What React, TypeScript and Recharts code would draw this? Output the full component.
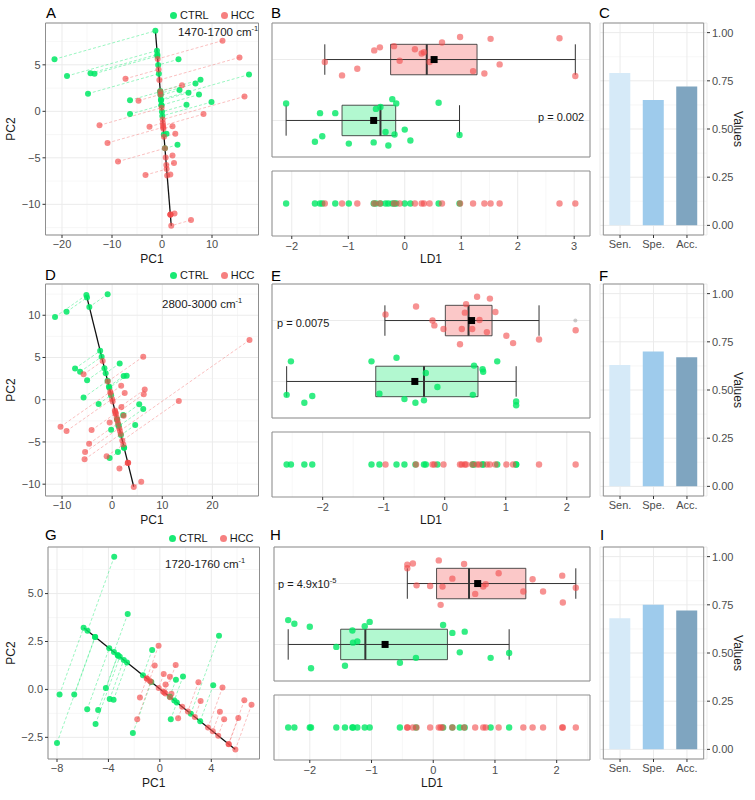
import React from 'react';
import {
  ScatterChart, Scatter, XAxis, YAxis, CartesianGrid, ReferenceLine, ReferenceArea,
  BarChart, Bar, Cell,
} from 'recharts';

type Pt = [number, number];

// ---------- Panel A (1470-1700 cm-1): PC1, PC2 ----------
const A_CTRL: Pt[] = [
  [-21.5, 5.6], [-19, 3.8], [-14.3, 4.1], [-13.5, 4.05], [-14.8, 1.9], [-6.4, 1.2], [-6.4, -0.3],
  [3.3, 5.6], [3.5, 2.3], [5.3, 2.0], [6.7, 3.0], [7.7, 3.4], [7.4, 1.8], [4.9, 0.7], [9.9, 1.0],
  [17.4, 3.95], [0.9, -2.4], [3.1, -3.6],
];
const A_HCC: Pt[] = [
  [12.1, 7.6], [15.5, 5.8], [16.5, 1.6], [-7.3, 3.5], [4.0, 2.8], [-4.7, 1.15], [8.3, -0.3],
  [-12.5, -1.5], [-2.5, -1.65], [-10.9, -3.4], [2.1, -1.6], [2.66, -2.4], [-8.8, -5.4], [-3.3, -6.85],
  [2.1, -4.76], [2.4, -5.55], [1.66, -6.8], [1.7, -11.1], [2.5, -11.0], [5.8, -11.7],
];
const A_LINE: Pt[] = [[-1.3, 8.5], [1.85, -12.3]];

// ---------- Panel D (2800-3000 cm-1) ----------
const D_CTRL: Pt[] = [
  [-0.9, 12.5], [-11.4, 9.8], [-9.1, 10.4], [-7.4, 3.7], [-6.4, 3.3], [-5.0, 2.3], [-5.7, 0.25],
  [-2.7, -0.5], [1.5, 4.3], [2.3, 2.8], [2.9, 2.85], [5.4, -0.55], [6.2, -1.1], [2.2, -1.8],
  [4.6, -3.0], [-0.2, -3.57], [1.15, -6.2], [-0.5, -6.9],
];
const D_HCC: Pt[] = [
  [6.2, 5.1], [27.4, 7.06], [-5.7, 3.0], [1.8, 1.65], [6.5, 1.2], [6.3, 0.64], [2.5, 0.8],
  [13.3, -0.15], [1.85, -0.86], [2.3, -1.9], [-0.5, -2.7], [-10.3, -3.2], [-9.1, -3.7], [-4.1, -3.6],
  [-4.6, -5.2], [-5.4, -6.2], [-5.5, -7.06], [-1.1, -6.7], [1.45, -8.15], [3.2, -7.45], [5.8, -9.7],
];
const D_LINE: Pt[] = [[-5.1, 12.3], [4.3, -10.3]];

// ---------- Panel G (1720-1760 cm-1) ----------
const G_CTRL: Pt[] = [
  [-3.55, 6.92], [-2.5, 3.94], [-7.8, -0.26], [-6.66, -0.26], [-8.0, -2.79], [-5.65, -1.04],
  [-4.8, -1.07], [-5.0, -1.8], [-4.2, 0.07], [-3.9, -0.5], [-3.6, -0.54], [-2.1, -2.28],
  [-0.6, 2.06], [1.25, 0.5], [1.8, 0.68], [0.85, -1.56], [4.15, 0.22], [4.6, 2.8],
];
const G_HCC: Pt[] = [
  [-0.1, 2.28], [-0.4, 1.25], [0.3, 0.8], [0.78, 0.66], [1.23, 1.27], [0.44, 0.26], [0.9, -0.22],
  [-1.55, -0.42], [-1.76, -1.56], [1.42, -1.5], [3.0, 0.38], [3.17, -0.6], [4.87, 0.1],
  [4.67, -1.16], [5.0, -1.56], [6.1, -1.49], [6.57, -0.57], [7.13, -0.8],
];
const G_LINE: Pt[] = [[-5.9, 3.2], [5.85, -3.12]];

// ---------- LD1 scores [LD1, vertical jitter] ----------
const B_CTRL: Pt[] = [
  [-2.1, 0.28], [-1.5, 0.12], [-1.23, 0.12], [-1.46, -0.26], [-1.59, -0.35], [-0.99, -0.38],
  [-0.55, -0.36], [-0.51, 0.19], [-0.43, 0.22], [-0.22, 0.35], [-0.15, 0.28], [-0.34, -0.19],
  [-0.18, -0.23], [-0.29, -0.41], [0.0, -0.15], [0.1, -0.33], [0.6, 0.29], [0.97, -0.24],
];
const B_HCC: Pt[] = [
  [-1.415, -0.04], [-1.11, -0.26], [-0.84, -0.15], [-0.54, 0.15], [-0.44, 0.2], [-0.19, 0.22],
  [-0.09, -0.02], [0.18, 0.17], [0.3, 0.1], [0.34, 0.12], [0.44, -0.04], [0.66, 0.28], [0.98, 0.37],
  [1.21, -0.19], [1.41, -0.23], [1.52, 0.34], [1.68, -0.08], [2.74, 0.35], [3.02, -0.27],
];
const E_CTRL: Pt[] = [
  [-2.59, -0.22], [-2.52, 0.33], [-2.3, -0.35], [-2.17, -0.24], [-1.2, 0.33], [-1.07, -0.2],
  [-0.79, 0.39], [-0.66, -0.29], [-0.48, -0.35], [-0.34, -0.31], [-0.31, 0.14], [-0.12, -0.09],
  [0.46, -0.22], [0.48, 0.26], [0.62, 0.2], [0.63, 0.16], [0.86, 0.33], [1.17, -0.33], [1.17, -0.39],
];
const E_HCC: Pt[] = [
  [-0.97, 0.1], [-0.47, 0.23], [-0.2, 0.0], [-0.17, -0.08], [-0.02, -0.14], [0.25, -0.39],
  [0.28, -0.14], [0.33, 0.13], [0.35, 0.27], [0.45, -0.14], [0.53, 0.39], [0.57, 0.01],
  [0.69, -0.19], [0.74, 0.36], [0.83, 0.14], [1.01, -0.25], [1.12, -0.37], [1.545, -0.31], [2.145, -0.16],
];
const H_CTRL: Pt[] = [
  [-2.35, 0.4], [-2.25, 0.34], [-2.0, 0.29], [-1.98, -0.39], [-1.57, -0.04], [-1.43, -0.35],
  [-1.31, 0.23], [-1.3, 0.03], [-1.23, 0.05], [-1.11, 0.3], [-1.03, 0.37], [-0.54, -0.3],
  [-0.28, -0.22], [0.16, 0.32], [0.31, 0.19], [0.43, -0.13], [0.51, 0.21], [0.93, -0.22], [1.23, -0.14],
];
const H_HCC: Pt[] = [
  [-0.42, 0.31], [-0.42, 0.25], [-0.33, 0.33], [-0.27, -0.03], [-0.05, -0.04], [0.09, 0.38],
  [0.15, -0.05], [0.12, -0.35], [0.31, 0.08], [0.5, 0.32], [0.68, -0.17], [0.81, -0.05],
  [0.85, -0.01], [1.06, 0.17], [1.46, -0.13], [1.61, 0.07], [1.78, -0.13], [2.09, 0.13],
  [2.1, -0.31], [2.31, -0.07],
];

// box stats: [whisker low, Q1, median, Q3, whisker high, mean]
const B_BOX_CTRL = [-2.1, -1.11, -0.43, -0.16, 0.97, -0.55];
const B_BOX_HCC = [-1.415, -0.25, 0.39, 1.28, 3.02, 0.52];
const E_BOX_CTRL = [-2.59, -1.13, -0.34, 0.545, 1.17, -0.49];
const E_BOX_HCC = [-0.98, 0.01, 0.39, 0.775, 1.545, 0.44];
const E_OUTLIER_HCC = [2.14];
const H_BOX_CTRL = [-2.35, -1.5, -1.1, 0.23, 1.23, -0.78];
const H_BOX_HCC = [-0.42, 0.054, 0.58, 1.5, 2.31, 0.72];

// ---------- Bars ----------
const BAR_LABELS = ['Sen.', 'Spe.', 'Acc.'];
const C_VALUES = [0.79, 0.65, 0.72];
const F_VALUES = [0.63, 0.70, 0.67];
const I_VALUES = [0.68, 0.75, 0.72];
const BAR_TICKS = [0, 0.25, 0.5, 0.75, 1];
const BAR_MINOR = [0.125, 0.375, 0.625, 0.875];

// ---------- styles ----------
const GREEN = '#00e865';
const RED = '#f24a4a';
const BAR_COLORS = ['#d6eaf8', '#9ecbec', '#7fa5c0'];
const MAJOR = '#ebebeb';
const MINOR = '#f5f5f5';
const BORDER = '#8f8f8f';
const TICK_TXT = '#4d4d4d';
const TITLE_TXT = '#1a1a1a';
const FONT = '"Liberation Sans", Arial, Helvetica, sans-serif';

const minus = (s: string) => s.replace(/-/g, '\u2212');
const fmtInt = (v: number) => minus(String(v));
const fmt1 = (v: number) => minus(v.toFixed(1));
const fmt2 = (v: number) => minus(v.toFixed(2));

function project(p: Pt, line: Pt[]): Pt {
  const [a, b] = line;
  const dx = b[0] - a[0];
  const dy = b[1] - a[1];
  const t = ((p[0] - a[0]) * dx + (p[1] - a[1]) * dy) / (dx * dx + dy * dy);
  return [a[0] + t * dx, a[1] + t * dy];
}

const dotShape = (color: string, r: number, op: number) => (props: any) => {
  if (props.cx == null || props.cy == null) return <g />;
  return <circle cx={props.cx} cy={props.cy} r={r} fill={color} fillOpacity={op} />;
};
const squareShape = (props: any) => {
  if (props.cx == null || props.cy == null) return <g />;
  return <rect x={props.cx - 3.5} y={props.cy - 3.5} width={7} height={7} fill="#000" />;
};

const tickStyle = { fontSize: 11, fill: TICK_TXT };
const axisTitle = { fontSize: 12, fill: TITLE_TXT };

function Letter({ text, left, top }: { text: string; left: number; top: number }) {
  return (
    <div style={{ position: 'absolute', left, top, fontSize: 15, lineHeight: '16px', color: '#000' }}>{text}</div>
  );
}

function Legend({ left, top }: { left: number; top: number }) {
  const dot = (c: string, op: number, ml: number) => (
    <span style={{ display: 'inline-block', width: 7, height: 7, borderRadius: '50%', background: c, opacity: op, marginLeft: ml, marginRight: 3 }} />
  );
  return (
    <div style={{ position: 'absolute', left, top, fontSize: 11, lineHeight: '14px', color: TITLE_TXT, display: 'flex', alignItems: 'center', whiteSpace: 'nowrap' }}>
      {dot(GREEN, 0.9, 0)}CTRL{dot(RED, 0.7, 12)}HCC
    </div>
  );
}

function Title({ left, top, text }: { left: number; top: number; text: string }) {
  return (
    <div style={{ position: 'absolute', left, top, fontSize: 11.5, lineHeight: '14px', color: TITLE_TXT, whiteSpace: 'nowrap' }}>
      {text} cm<sup style={{ fontSize: 7.5, verticalAlign: 'top', lineHeight: '8px' }}>-1</sup>
    </div>
  );
}

type ScatterProps = {
  top: number; plotLeft: number; plotRight: number;
  ctrl: Pt[]; hcc: Pt[]; line: Pt[];
  xDomain: [number, number]; yDomain: [number, number];
  xTicks: number[]; yTicks: number[]; xMinor: number[]; yMinor: number[];
  yFmt: (v: number) => string;
};

function ScatterPanel(p: ScatterProps) {
  const W = 264;
  const H = 268;
  const ctrlProj = p.ctrl.map((q) => project(q, p.line));
  const hccProj = p.hcc.map((q) => project(q, p.line));
  const xy = (arr: Pt[]) => arr.map(([x, y]) => ({ x, y }));
  return (
    <div style={{ position: 'absolute', left: 0, top: p.top - 23, width: W, height: H }}>
      <ScatterChart width={W} height={H} margin={{ top: 23, right: W - p.plotRight, left: 0, bottom: 4 }}>
        <CartesianGrid stroke={MINOR} strokeWidth={0.8} horizontalValues={p.yMinor} verticalValues={p.xMinor} />
        <CartesianGrid stroke={MAJOR} strokeWidth={1} />
        <XAxis
          type="number" dataKey="x" domain={p.xDomain} ticks={p.xTicks} allowDataOverflow interval={0}
          height={29} tickSize={3} tickMargin={2} axisLine={false} tickLine={{ stroke: '#333' }}
          tick={tickStyle} tickFormatter={fmtInt}
          label={{ value: 'PC1', position: 'insideBottom', offset: 1, ...axisTitle }}
        />
        <YAxis
          type="number" dataKey="y" domain={p.yDomain} ticks={p.yTicks} allowDataOverflow interval={0}
          width={p.plotLeft} tickSize={3} tickMargin={2} axisLine={false} tickLine={{ stroke: '#333' }}
          tick={tickStyle} tickFormatter={p.yFmt}
          label={{ value: 'PC2', angle: -90, position: 'insideLeft', offset: 11, ...axisTitle, style: { textAnchor: 'middle' } }}
        />
        {p.ctrl.map((q, i) => (
          <ReferenceLine key={'cs' + i} segment={[{ x: q[0], y: q[1] }, { x: ctrlProj[i][0], y: ctrlProj[i][1] }]}
            stroke={GREEN} strokeOpacity={0.4} strokeDasharray="3 2" strokeWidth={1} ifOverflow="visible" />
        ))}
        {p.hcc.map((q, i) => (
          <ReferenceLine key={'hs' + i} segment={[{ x: q[0], y: q[1] }, { x: hccProj[i][0], y: hccProj[i][1] }]}
            stroke={RED} strokeOpacity={0.35} strokeDasharray="3 2" strokeWidth={1} ifOverflow="visible" />
        ))}
        <ReferenceLine segment={[{ x: p.line[0][0], y: p.line[0][1] }, { x: p.line[1][0], y: p.line[1][1] }]}
          stroke="#111" strokeWidth={1.3} ifOverflow="visible" />
        <Scatter data={xy(p.ctrl)} shape={dotShape(GREEN, 3, 0.85)} isAnimationActive={false} />
        <Scatter data={xy(p.hcc)} shape={dotShape(RED, 3, 0.65)} isAnimationActive={false} />
        <Scatter data={xy(ctrlProj)} shape={dotShape(GREEN, 3, 0.85)} isAnimationActive={false} />
        <Scatter data={xy(hccProj)} shape={dotShape(RED, 3, 0.65)} isAnimationActive={false} />
        <ReferenceArea x1={p.xDomain[0]} x2={p.xDomain[1]} y1={p.yDomain[0]} y2={p.yDomain[1]}
          fill="none" stroke={BORDER} strokeWidth={1} ifOverflow="visible" />
      </ScatterChart>
    </div>
  );
}

type BoxProps = {
  top: number; plotLeft: number;
  ctrl: Pt[]; hcc: Pt[]; ctrlBox: number[]; hccBox: number[]; outliers: number[];
  xDomain: [number, number]; xTicks: number[]; xMinor: number[];
};

function boxEls(s: number[], c: number, fill: string, key: string) {
  const hw = 0.25;
  return [
    <ReferenceLine key={key + 'w'} segment={[{ x: s[0], y: c }, { x: s[4], y: c }]} stroke="#333" strokeWidth={1} ifOverflow="visible" />,
    <ReferenceLine key={key + 'c1'} segment={[{ x: s[0], y: c - hw }, { x: s[0], y: c + hw }]} stroke="#333" strokeWidth={1} ifOverflow="visible" />,
    <ReferenceLine key={key + 'c2'} segment={[{ x: s[4], y: c - hw }, { x: s[4], y: c + hw }]} stroke="#333" strokeWidth={1} ifOverflow="visible" />,
    <ReferenceArea key={key + 'b'} x1={s[1]} x2={s[3]} y1={c - hw} y2={c + hw} fill={fill} fillOpacity={0.3}
      stroke="#333" strokeOpacity={0.85} strokeWidth={1} ifOverflow="visible" />,
    <ReferenceLine key={key + 'm'} segment={[{ x: s[2], y: c - hw }, { x: s[2], y: c + hw }]} stroke="#333" strokeWidth={2} ifOverflow="visible" />,
  ];
}

function BoxPanel(p: BoxProps) {
  const L = 262;
  const W = 330;
  const boxH = 134;
  const H1 = 23 + boxH + 4;
  const H2 = 8 + 65 + 28 + 4;
  const jit = (arr: Pt[], c: number) => arr.map(([x, j]) => ({ x, y: c + j }));
  const flat = (arr: Pt[]) => arr.map(([x]) => ({ x, y: 1 }));
  const xAxisCommon = {
    type: 'number' as const, dataKey: 'x', domain: p.xDomain, ticks: p.xTicks, allowDataOverflow: true,
    interval: 0 as const, tickSize: 3, axisLine: false, tickLine: { stroke: '#333' },
  };
  return (
    <>
      <div style={{ position: 'absolute', left: L, top: p.top - 23, width: W, height: H1 }}>
        <ScatterChart width={W} height={H1} margin={{ top: 23, right: L + W - 590, left: p.plotLeft - L, bottom: 0 }}>
          <CartesianGrid stroke={MINOR} strokeWidth={0.8} horizontal={false} verticalValues={p.xMinor} />
          <CartesianGrid stroke={MAJOR} strokeWidth={1} />
          <XAxis {...xAxisCommon} height={4} tick={false} />
          <YAxis type="number" dataKey="y" domain={[0.4, 2.6]} ticks={[1, 2]} allowDataOverflow hide />
          {boxEls(p.hccBox, 2, RED, 'h')}
          {boxEls(p.ctrlBox, 1, GREEN, 'c')}
          <Scatter data={p.outliers.map((x) => ({ x, y: 2 }))} shape={dotShape('#9a9a9a', 2, 0.5)} isAnimationActive={false} />
          <Scatter data={jit(p.hcc, 2)} shape={dotShape(RED, 3.2, 0.6)} isAnimationActive={false} />
          <Scatter data={jit(p.ctrl, 1)} shape={dotShape(GREEN, 3.2, 0.8)} isAnimationActive={false} />
          <Scatter data={[{ x: p.hccBox[5], y: 2 }, { x: p.ctrlBox[5], y: 1 }]} shape={squareShape} isAnimationActive={false} />
          <ReferenceArea x1={p.xDomain[0]} x2={p.xDomain[1]} y1={0.4} y2={2.6} fill="none" stroke={BORDER} strokeWidth={1} ifOverflow="visible" />
        </ScatterChart>
      </div>
      <div style={{ position: 'absolute', left: L, top: p.top + 140, width: W, height: H2 }}>
        <ScatterChart width={W} height={H2} margin={{ top: 8, right: L + W - 590, left: p.plotLeft - L, bottom: 4 }}>
          <CartesianGrid stroke={MINOR} strokeWidth={0.8} horizontal={false} verticalValues={p.xMinor} />
          <CartesianGrid stroke={MAJOR} strokeWidth={1} horizontal={false} />
          <XAxis {...xAxisCommon} height={28} tickMargin={3} tick={tickStyle} tickFormatter={fmtInt}
            label={{ value: 'LD1', position: 'insideBottom', offset: 1, ...axisTitle }} />
          <YAxis type="number" dataKey="y" domain={[0, 2]} allowDataOverflow hide />
          <Scatter data={flat(p.ctrl)} shape={dotShape(GREEN, 3.2, 0.8)} isAnimationActive={false} />
          <Scatter data={flat(p.hcc)} shape={dotShape(RED, 3.2, 0.6)} isAnimationActive={false} />
          <ReferenceArea x1={p.xDomain[0]} x2={p.xDomain[1]} y1={0} y2={2} fill="none" stroke={BORDER} strokeWidth={1} ifOverflow="visible" />
        </ScatterChart>
      </div>
    </>
  );
}

function BarPanel({ top, values }: { top: number; values: number[] }) {
  const data = BAR_LABELS.map((name, i) => ({ name, v: values[i] }));
  return (
    <div style={{ position: 'absolute', left: 590, top: top - 23, width: 165, height: 262 }}>
      <BarChart width={165} height={262} data={data} margin={{ top: 23, right: 0, left: 10, bottom: 0 }}>
        <CartesianGrid stroke={MINOR} strokeWidth={0.8} vertical={false} horizontalValues={BAR_MINOR} />
        <CartesianGrid stroke={MAJOR} strokeWidth={1} />
        <XAxis dataKey="name" type="category" padding={{ left: 3.3, right: 3.3 }} height={27} interval={0}
          tickSize={3} tickMargin={2} axisLine={false} tickLine={{ stroke: '#333' }} tick={tickStyle} />
        <YAxis orientation="right" type="number" domain={[-0.05, 1.05]} ticks={BAR_TICKS} allowDataOverflow interval={0}
          width={48} tickSize={3} tickMargin={2} axisLine={false} tickLine={{ stroke: '#333' }} tick={tickStyle}
          tickFormatter={fmt2}
          label={{ value: 'Values', angle: 90, position: 'insideRight', offset: 17, ...axisTitle, style: { textAnchor: 'middle' } }} />
        <Bar dataKey="v" barSize={21} isAnimationActive={false}>
          {data.map((d, i) => <Cell key={d.name} fill={BAR_COLORS[i]} />)}
        </Bar>
        <ReferenceArea y1={-0.05} y2={1.05} fill="none" stroke={BORDER} strokeWidth={1} ifOverflow="visible" />
      </BarChart>
    </div>
  );
}

function PText({ left, top, children }: { left: number; top: number; children: React.ReactNode }) {
  return (
    <div style={{ position: 'absolute', left, top, fontSize: 11, lineHeight: '14px', color: TITLE_TXT, whiteSpace: 'nowrap' }}>{children}</div>
  );
}

export default function App() {
  const R1 = 23;
  const R2 = 284;
  const R3 = 547;
  return (
    <div style={{ position: 'absolute', left: 0, top: 0, width: 755, height: 800, background: '#fff', fontFamily: FONT, overflow: 'hidden' }}>
      {/* Row 1 */}
      <ScatterPanel top={R1} plotLeft={45.5} plotRight={258.5} ctrl={A_CTRL} hcc={A_HCC} line={A_LINE}
        xDomain={[-23.3, 19.3]} yDomain={[-13.3, 9.5]} xTicks={[-20, -10, 0, 10]} yTicks={[-10, -5, 0, 5]}
        xMinor={[-15, -5, 5, 15]} yMinor={[-12.5, -7.5, -2.5, 2.5, 7.5]} yFmt={fmtInt} />
      <BoxPanel top={R1} plotLeft={272} ctrl={B_CTRL} hcc={B_HCC} ctrlBox={B_BOX_CTRL} hccBox={B_BOX_HCC} outliers={[]}
        xDomain={[-2.35, 3.28]} xTicks={[-2, -1, 0, 1, 2, 3]} xMinor={[-1.5, -0.5, 0.5, 1.5, 2.5]} />
      <BarPanel top={R1} values={C_VALUES} />

      {/* Row 2 */}
      <ScatterPanel top={R2} plotLeft={45.5} plotRight={258.5} ctrl={D_CTRL} hcc={D_HCC} line={D_LINE}
        xDomain={[-13.3, 29.2]} yDomain={[-11.4, 13.7]} xTicks={[-10, 0, 10, 20]} yTicks={[-10, -5, 0, 5, 10]}
        xMinor={[-5, 5, 15, 25]} yMinor={[-7.5, -2.5, 2.5, 7.5, 12.5]} yFmt={fmtInt} />
      <BoxPanel top={R2} plotLeft={272} ctrl={E_CTRL} hcc={E_HCC} ctrlBox={E_BOX_CTRL} hccBox={E_BOX_HCC} outliers={E_OUTLIER_HCC}
        xDomain={[-2.83, 2.38]} xTicks={[-2, -1, 0, 1, 2]} xMinor={[-2.5, -1.5, -0.5, 0.5, 1.5]} />
      <BarPanel top={R2} values={F_VALUES} />

      {/* Row 3 */}
      <ScatterPanel top={R3} plotLeft={48} plotRight={259.5} ctrl={G_CTRL} hcc={G_HCC} line={G_LINE}
        xDomain={[-8.7, 7.75]} yDomain={[-3.63, 7.43]} xTicks={[-8, -4, 0, 4]} yTicks={[-2.5, 0, 2.5, 5]}
        xMinor={[-6, -2, 2, 6]} yMinor={[-1.25, 1.25, 3.75, 6.25]} yFmt={fmt1} />
      <BoxPanel top={R3} plotLeft={274} ctrl={H_CTRL} hcc={H_HCC} ctrlBox={H_BOX_CTRL} hccBox={H_BOX_HCC} outliers={[]}
        xDomain={[-2.58, 2.54]} xTicks={[-2, -1, 0, 1, 2]} xMinor={[-2.5, -1.5, -0.5, 0.5, 1.5, 2.5]} />
      <BarPanel top={R3} values={I_VALUES} />

      {/* Letters */}
      <Letter text="A" left={46} top={5} />
      <Letter text="B" left={271} top={5} />
      <Letter text="C" left={599} top={5} />
      <Letter text="D" left={45} top={267} />
      <Letter text="E" left={271} top={268} />
      <Letter text="F" left={599} top={268} />
      <Letter text="G" left={45} top={527} />
      <Letter text="H" left={270} top={527} />
      <Letter text="I" left={600} top={527} />

      {/* Legends */}
      <Legend left={170} top={R1 - 15} />
      <Legend left={170} top={R2 - 16} />
      <Legend left={169} top={R3 - 16} />

      {/* Spectral range titles */}
      <Title left={178} top={R1 + 2} text="1470-1700" />
      <Title left={162} top={R2 + 13} text="2800-3000" />
      <Title left={165} top={R3 + 10} text="1720-1760" />

      {/* p values */}
      <PText left={538} top={110}>p = 0.002</PText>
      <PText left={277} top={316}>p = 0.0075</PText>
      <PText left={278} top={577}>p = 4.9x10<sup style={{ fontSize: 7.5, verticalAlign: 'top', lineHeight: '8px' }}>-5</sup></PText>
    </div>
  );
}
